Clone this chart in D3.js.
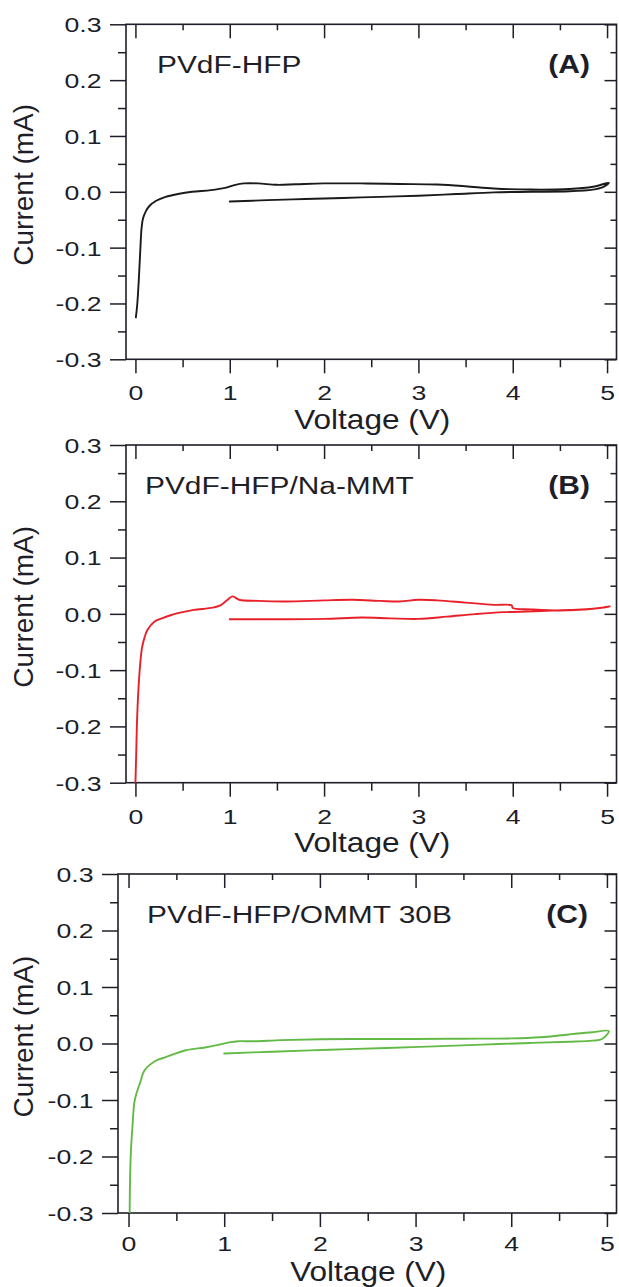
<!DOCTYPE html>
<html>
<head>
<meta charset="utf-8">
<script src="https://cdn.jsdelivr.net/npm/d3@7"></script>
<style>
    body { margin: 0; background: #fff; }
    svg { display: block; }
</style>
</head>
<body>
<svg id="chart" width="619" height="1287"></svg>
<script>
"use strict";

const voltageA = [1.0, 1.4, 1.8, 2.2, 2.6, 3.0, 3.4, 3.8, 4.2, 4.6, 4.85, 4.95, 5.02,
    4.85, 4.6, 4.2, 3.8, 3.5, 3.2, 2.8, 2.4, 2.0, 1.7, 1.5, 1.3, 1.15, 1.05, 0.95,
    0.8, 0.6, 0.45, 0.32, 0.22, 0.15, 0.11, 0.08, 0.065, 0.05, 0.035, 0.02, 0.005];
const currentA = [-0.0175, -0.015, -0.013, -0.011, -0.009, -0.007, -0.004, -0.001, 0.0, 0.001, 0.004, 0.008, 0.016,
    0.009, 0.005, 0.004, 0.006, 0.010, 0.013, 0.014, 0.015, 0.015, 0.0135, 0.0125, 0.015, 0.015, 0.012, 0.007,
    0.003, 0.0, -0.004, -0.009, -0.016, -0.025, -0.035, -0.048, -0.065, -0.11, -0.16, -0.2, -0.225];

const voltageB = [1.0, 1.5, 2.0, 2.4, 2.7, 3.0, 3.3, 3.6, 3.9, 4.3, 4.6, 4.85, 5.03,
    4.8, 4.5, 4.2, 4.0, 3.99, 3.8, 3.5, 3.2, 3.0, 2.8, 2.6, 2.3, 2.0, 1.6, 1.3, 1.1, 1.03, 0.97,
    0.9, 0.82, 0.62, 0.5, 0.38, 0.28, 0.2, 0.13, 0.1, 0.07, 0.05, 0.03, 0.017, 0.008, 0.0];
const currentB = [-0.0095, -0.0095, -0.009, -0.0065, -0.008, -0.009, -0.005, -0.0005, 0.003, 0.005, 0.007, 0.009, 0.013,
    0.008, 0.006, 0.008, 0.0105, 0.015, 0.016, 0.02, 0.024, 0.025, 0.022, 0.023, 0.025, 0.024, 0.022, 0.023, 0.025, 0.031, 0.024,
    0.015, 0.011, 0.007, 0.003, -0.002, -0.008, -0.014, -0.028, -0.04, -0.06, -0.09, -0.14, -0.19, -0.25, -0.3];

const voltageC = [1.0, 1.5, 2.1, 2.7, 3.2, 3.7, 4.2, 4.6, 4.85, 4.95, 5.02,
    4.85, 4.6, 4.3, 4.0, 3.5, 3.0, 2.5, 2.0, 1.6, 1.3, 1.15, 1.05, 0.95, 0.8, 0.6,
    0.39, 0.28, 0.17, 0.12, 0.08, 0.06, 0.04, 0.025, 0.015, 0.012];
const currentC = [-0.0177, -0.0145, -0.011, -0.008, -0.005, -0.002, 0.001, 0.003, 0.005, 0.008, 0.022,
    0.02, 0.016, 0.011, 0.009, 0.0085, 0.008, 0.008, 0.0075, 0.006, 0.004, 0.004, 0.002, -0.002, -0.007, -0.012,
    -0.024, -0.031, -0.047, -0.07, -0.09, -0.105, -0.15, -0.19, -0.25, -0.3];

const xMajorTicks = [0, 1, 2, 3, 4, 5];
const xMinorTicks = [0.5, 1.5, 2.5, 3.5, 4.5];
const yMajorTicks = [-0.3, -0.2, -0.1, 0.0, 0.1, 0.2, 0.3];
const yMinorTicks = [-0.25, -0.15, -0.05, 0.05, 0.15, 0.25];
const panelNames = ["PVdF-HFP", "PVdF-HFP/Na-MMT", "PVdF-HFP/OMMT 30B"];
const panelTags = ["(A)", "(B)", "(C)"];
const xTitle = "Voltage (V)";
const yTitle = "Current (mA)";

// ---- layout ----
const FONT = "'Liberation Sans', Arial, Helvetica, sans-serif";
const INK = "#1e1e28";
const panels = [
    { left: 126, right: 616.5, top: 24.3, bottom: 359.3, xMin: -0.1, nameX: 157, tagX: 590,
      tickDy: 41, titleDy: 70, color: "#1a1a1a", v: voltageA, i: currentA },
    { left: 126, right: 616.5, top: 445, bottom: 782.7, xMin: -0.1, nameX: 145, tagX: 590,
      tickDy: 41, titleDy: 69, color: "#e8202a", v: voltageB, i: currentB },
    { left: 118, right: 616.5, top: 874, bottom: 1213, xMin: -0.11, nameX: 147, tagX: 588,
      tickDy: 38.5, titleDy: 68, color: "#63b946", v: voltageC, i: currentC }
];

const svg = d3.select("#chart");

/**
 * Strips the domain path from an axis group and sets its tick style.
 */
const styleAxis = (g) => {
    g.select(".domain").remove();
    g.selectAll("line").attr("stroke", INK).attr("stroke-width", 1.5);
    g.selectAll("text")
        .attr("font-family", FONT)
        .attr("font-size", 20.5)
        .attr("fill", INK);
};

const drawPanel = (p, idx) => {
    const x = d3.scaleLinear().domain([p.xMin, 5.1]).range([p.left, p.right]);
    const y = d3.scaleLinear().domain([-0.3, 0.3]).range([p.bottom, p.top]);
    const g = svg.append("g").attr("class", `panel-${idx}`);

    // minor ticks first, then majors
    g.append("g").attr("transform", `translate(0,${p.bottom})`)
        .call(d3.axisBottom(x).tickValues(xMinorTicks).tickSize(8).tickSizeOuter(0).tickFormat(""))
        .call(styleAxis);
    g.append("g").attr("transform", `translate(0,${p.top})`)
        .call(d3.axisTop(x).tickValues(xMinorTicks).tickSize(-6).tickSizeOuter(0).tickFormat(""))
        .call(styleAxis);
    g.append("g").attr("transform", `translate(0,${p.top})`)
        .call(d3.axisTop(x).tickValues(xMajorTicks).tickSize(-14).tickSizeOuter(0).tickFormat(""))
        .call(styleAxis);
    g.append("g").attr("transform", `translate(${p.left},0)`)
        .call(d3.axisLeft(y).tickValues(yMinorTicks).tickSize(8).tickSizeOuter(0).tickFormat(""))
        .call(styleAxis);
    g.append("g").attr("transform", `translate(${p.right},0)`)
        .call(d3.axisRight(y).tickValues(yMinorTicks).tickSize(-6).tickSizeOuter(0).tickFormat(""))
        .call(styleAxis);
    g.append("g").attr("transform", `translate(${p.right},0)`)
        .call(d3.axisRight(y).tickValues(yMajorTicks).tickSize(-12).tickSizeOuter(0).tickFormat(""))
        .call(styleAxis);

    const bottomAxis = g.append("g").attr("transform", `translate(0,${p.bottom})`)
        .call(d3.axisBottom(x).tickValues(xMajorTicks).tickSize(14).tickSizeOuter(0).tickFormat((d) => `${d}`))
        .call(styleAxis);
    bottomAxis.selectAll("text")
        .attr("y", p.tickDy)
        .attr("dy", "0")
        .attr("transform", "scale(1.3,1)");

    const leftAxis = g.append("g").attr("transform", `translate(${p.left},0)`)
        .call(d3.axisLeft(y).tickValues(yMajorTicks).tickSize(16).tickSizeOuter(0)
            .tickFormat((d) => (Math.abs(d) < 1e-9 ? "0.0" : d.toFixed(1))))
        .call(styleAxis);
    leftAxis.selectAll("text")
        .attr("x", -24.5 / 1.3)
        .attr("dy", "0.36em")
        .attr("transform", "scale(1.3,1)");

    // frame
    g.append("rect")
        .attr("x", p.left).attr("y", p.top)
        .attr("width", p.right - p.left).attr("height", p.bottom - p.top)
        .attr("fill", "none").attr("stroke", INK).attr("stroke-width", 1.6);

    // curve, clipped to the frame
    const clipId = `clip-${idx}`;
    g.append("clipPath").attr("id", clipId)
        .append("rect")
        .attr("x", p.left).attr("y", p.top)
        .attr("width", p.right - p.left).attr("height", p.bottom - p.top);
    const pts = p.v.map((v, k) => [v, p.i[k]]);
    const line = d3.line()
        .x((d) => x(d[0]))
        .y((d) => y(d[1]))
        .curve(d3.curveCatmullRom.alpha(0.5));
    g.append("path")
        .datum(pts)
        .attr("clip-path", `url(#${clipId})`)
        .attr("d", line)
        .attr("fill", "none")
        .attr("stroke", p.color)
        .attr("stroke-width", 1.9)
        .attr("stroke-linejoin", "round")
        .attr("stroke-linecap", "round");

    // labels
    const nameY = p.top + 49;
    g.append("text")
        .attr("transform", `translate(${p.nameX},${nameY}) scale(1.22,1)`)
        .attr("font-family", FONT).attr("font-size", 24.5).attr("fill", INK)
        .text(panelNames[idx]);
    g.append("text")
        .attr("transform", `translate(${p.tagX},${nameY}) scale(1.2,1)`)
        .attr("text-anchor", "end")
        .attr("font-family", FONT).attr("font-size", 25).attr("font-weight", "bold").attr("fill", INK)
        .text(panelTags[idx]);

    g.append("text")
        .attr("transform", `translate(${(p.left + p.right) / 2 + 1},${p.bottom + p.titleDy}) scale(1.17,1)`)
        .attr("text-anchor", "middle")
        .attr("font-family", FONT).attr("font-size", 27).attr("fill", INK)
        .text(xTitle);
    g.append("text")
        .attr("transform", `translate(33,${(p.top + p.bottom) / 2 - 7}) rotate(-90)`)
        .attr("text-anchor", "middle")
        .attr("font-family", FONT).attr("font-size", 28).attr("fill", INK)
        .text(yTitle);
};

panels.forEach(drawPanel);
</script>
</body>
</html>
